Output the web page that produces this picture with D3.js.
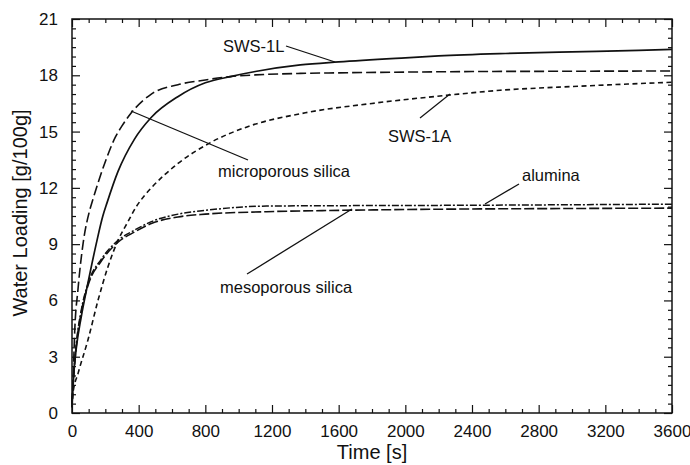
<!DOCTYPE html>
<html>
<head>
<meta charset="utf-8">
<script src="https://cdn.jsdelivr.net/npm/d3@7"></script>
<style>
  body { margin: 0; background: #fff; }
  svg { font-family: "Liberation Sans", Arial, Helvetica, sans-serif; }
  .tick text { font-size: 17px; fill: #111; }
  .tick line { stroke: #111; stroke-width: 1.2; }
</style>
</head>
<body>
<div id="chart"></div>
<script>
// time [s] and water loading [g/100g]
var tSWS1L = [0, 10, 25, 55, 95, 145, 185, 210, 275, 375, 475, 635, 800, 950, 1100, 1370, 1600, 2000, 2200, 2600, 3000, 3400, 3600]
var vSWS1L = [0.3, 2.0, 3.4, 5.1, 6.9, 9.0, 10.5, 11.2, 12.85, 14.6, 15.75, 16.86, 17.6, 17.93, 18.2, 18.55, 18.71, 18.93, 19.03, 19.16, 19.25, 19.33, 19.38]

var tMicro = [0, 6, 16, 36, 66, 106, 126, 196, 260, 300, 356, 476, 636, 800, 950, 1100, 1370, 1600, 2000, 2400, 2800, 3200, 3600]
var vMicro = [0.5, 1.6, 4.3, 6.6, 9.0, 10.8, 11.4, 13.3, 14.7, 15.3, 16.0, 17.0, 17.5, 17.75, 17.93, 18.02, 18.1, 18.13, 18.17, 18.2, 18.21, 18.22, 18.23]

var tSWS1A = [0, 6, 36, 96, 156, 216, 276, 336, 386, 436, 476, 636, 828, 1050, 1400, 1800, 2268, 2568, 3000, 3600]
var vSWS1A = [0.3, 1.07, 2.1, 3.9, 6.0, 7.8, 9.2, 10.2, 11.0, 11.6, 12.0, 13.3, 14.4, 15.25, 16.0, 16.5, 16.95, 17.2, 17.4, 17.63]

var tAlumina = [0, 10, 26, 56, 96, 176, 276, 376, 476, 636, 800, 1168, 1600, 2328, 3000, 3600]
var vAlumina = [0.5, 2.0, 3.7, 5.5, 6.9, 8.2, 9.2, 9.75, 10.2, 10.6, 10.8, 11.03, 11.05, 11.07, 11.1, 11.13]

var tMeso = [0, 10, 26, 56, 96, 176, 276, 376, 476, 636, 800, 1168, 1600, 2328, 3000, 3600]
var vMeso = [0.5, 2.0, 3.6, 5.4, 6.8, 8.1, 9.1, 9.65, 10.1, 10.45, 10.6, 10.73, 10.8, 10.87, 10.9, 10.92]

var xTicks = [0, 400, 800, 1200, 1600, 2000, 2400, 2800, 3200, 3600]
var yTicks = [0, 3, 6, 9, 12, 15, 18, 21]

var W = 690, H = 465
var pL = 72, pR = 672, pT = 19, pB = 413

var svg = d3.select('#chart').append('svg')
  .attr('width', W)
  .attr('height', H)

var x = d3.scaleLinear().domain([0, 3600]).range([pL, pR])
var y = d3.scaleLinear().domain([0, 21]).range([pB, pT])

var xMinor = d3.range(100, 3600, 100).filter(function (d) { return d % 400 })
var yMinor = d3.range(0.5, 21, 0.5).filter(function (d) { return d % 3 })

function cleanAxis(g) {
  g.select('.domain').remove()
}

// bottom: major with labels, minor without
svg.append('g')
  .attr('transform', 'translate(0,' + pB + ')')
  .call(d3.axisBottom(x).tickValues(xTicks).tickSize(-8).tickPadding(12).tickFormat(d3.format('d')))
  .call(cleanAxis)
svg.append('g')
  .attr('transform', 'translate(0,' + pB + ')')
  .call(d3.axisBottom(x).tickValues(xMinor).tickSize(-4).tickFormat(''))
  .call(cleanAxis)

// top
svg.append('g')
  .attr('transform', 'translate(0,' + pT + ')')
  .call(d3.axisTop(x).tickValues(xTicks).tickSize(-8).tickFormat(''))
  .call(cleanAxis)
svg.append('g')
  .attr('transform', 'translate(0,' + pT + ')')
  .call(d3.axisTop(x).tickValues(xMinor).tickSize(-4).tickFormat(''))
  .call(cleanAxis)

// left
svg.append('g')
  .attr('transform', 'translate(' + pL + ',0)')
  .call(d3.axisLeft(y).tickValues(yTicks).tickSize(-8).tickPadding(14))
  .call(cleanAxis)
svg.append('g')
  .attr('transform', 'translate(' + pL + ',0)')
  .call(d3.axisLeft(y).tickValues(yMinor).tickSize(-4).tickFormat(''))
  .call(cleanAxis)

// right
svg.append('g')
  .attr('transform', 'translate(' + pR + ',0)')
  .call(d3.axisRight(y).tickValues(yTicks).tickSize(-8).tickFormat(''))
  .call(cleanAxis)
svg.append('g')
  .attr('transform', 'translate(' + pR + ',0)')
  .call(d3.axisRight(y).tickValues(yMinor).tickSize(-4).tickFormat(''))
  .call(cleanAxis)

svg.append('rect')
  .attr('x', pL).attr('y', pT)
  .attr('width', pR - pL).attr('height', pB - pT)
  .attr('fill', 'none')
  .attr('stroke', '#111')
  .attr('stroke-width', 1.5)

var line = d3.line()
  .x(function (d) { return x(d[0]) })
  .y(function (d) { return y(d[1]) })
  .curve(d3.curveMonotoneX)

var series = [
  { t: tMeso, v: vMeso, dash: '10,3', w: 1.6 },
  { t: tAlumina, v: vAlumina, dash: '7,2,2,2', w: 1.5 },
  { t: tSWS1A, v: vSWS1A, dash: '5,3.5', w: 1.6 },
  { t: tMicro, v: vMicro, dash: '10,4', w: 1.6 },
  { t: tSWS1L, v: vSWS1L, dash: null, w: 1.7 }
]

series.forEach(function (s) {
  svg.append('path')
    .attr('d', line(d3.zip(s.t, s.v)))
    .attr('fill', 'none')
    .attr('stroke', '#111')
    .attr('stroke-width', s.w)
    .attr('stroke-dasharray', s.dash)
})

// labels with leader lines
var labels = [
  { text: 'SWS-1L', tx: 223, ty: 52, l: [286, 46, 335, 62] },
  { text: 'SWS-1A', tx: 388, ty: 142, l: [420, 118, 450, 94] },
  { text: 'microporous silica', tx: 218, ty: 177, l: [248, 160, 131, 111] },
  { text: 'alumina', tx: 522, ty: 181, l: [519, 184, 485, 204] },
  { text: 'mesoporous silica', tx: 220, ty: 293, l: [247, 274, 352, 209] }
]

labels.forEach(function (d) {
  svg.append('line')
    .attr('x1', d.l[0]).attr('y1', d.l[1])
    .attr('x2', d.l[2]).attr('y2', d.l[3])
    .attr('stroke', '#111')
    .attr('stroke-width', 1.3)
  svg.append('text')
    .attr('x', d.tx).attr('y', d.ty)
    .attr('font-size', 16.5)
    .attr('fill', '#111')
    .text(d.text)
})

svg.append('text')
  .attr('x', (pL + pR) / 2)
  .attr('y', 459)
  .attr('text-anchor', 'middle')
  .attr('font-size', 20)
  .attr('fill', '#111')
  .text('Time [s]')

svg.append('text')
  .attr('transform', 'translate(27,213) rotate(-90)')
  .attr('text-anchor', 'middle')
  .attr('font-size', 20)
  .attr('fill', '#111')
  .text('Water Loading [g/100g]')
</script>
</body>
</html>
